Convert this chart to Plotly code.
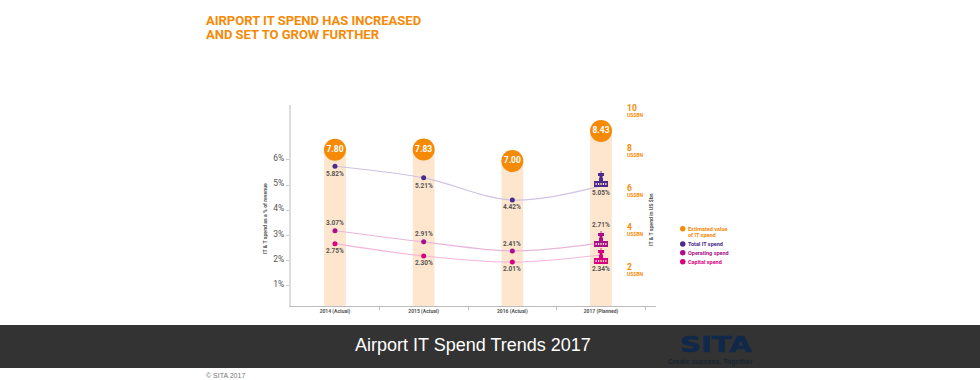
import plotly.graph_objects as go

W, H = 980, 380
DIN = "Roboto, Arial, sans-serif"

# ---- data ----
years = ["2014 (Actual)", "2015 (Actual)", "2016 (Actual)", "2017 (Planned)"]
spend_labels = ["7.80", "7.83", "7.00", "8.43"]
spend_pos = [7.90, 7.91, 7.33, 8.84]          # height on the US$ axis as drawn

total_pos = [5.75, 5.29, 4.41, 4.97]
operating_pos = [3.19, 2.75, 2.39, 2.71]
capital_pos = [2.68, 2.19, 1.95, 2.23]

total_labels = ["5.82%", "5.21%", "4.42%", "5.05%"]
operating_labels = ["3.07%", "2.91%", "2.41%", "2.71%"]
capital_labels = ["2.75%", "2.30%", "2.01%", "2.34%"]

pct_ticks = [1, 2, 3, 4, 5, 6]
usd_ticks = [2, 4, 6, 8, 10]

# ---- styles ----
ORANGE = "#F58A07"
BAR = "#FDE6CD"
TEXT = "#555555"
series = [
    ("Total IT spend", total_pos, total_labels, "#4B2A8C", "#CFC2E2", [8, 8, 7, 7], 1),
    ("Operating spend", operating_pos, operating_labels, "#A8108A", "#E8B6DB", [-8, -7.5, -7, -18], 4),
    ("Capital spend", capital_pos, capital_labels, "#D9007F", "#F5B6DA", [7.5, 7, 7, 14], 9),
]


def px(x):
    return x / W


def py(y):
    return 1 - y / H


fig = go.Figure()
fig.add_bar(x=years, y=spend_pos, width=0.245, marker=dict(color=BAR, line_width=0),
            yaxis="y", hoverinfo="skip", showlegend=False)
fig.add_scatter(x=years, y=spend_pos, mode="markers+text", yaxis="y",
                marker=dict(size=22, color=ORANGE, line_width=0),
                text=spend_labels, textposition="middle center",
                textfont=dict(family=DIN, size=8.5, color="white", weight="bold"),
                cliponaxis=False, showlegend=False)

annotations = []
shapes = []


def building(x, y, dy, color):
    """Small airport-terminal icon anchored on the last point of a series."""
    d = dy
    parts = [
        f"M-7,{-d} L7,{-d} L7,{-d+6} L2,{-d+6} L2,{-d+9} L-2,{-d+9} L-2,{-d+6} L-7,{-d+6} Z",
        f"M-1.5,{-d+9} L1.5,{-d+9} L1.5,{-d+11} L-1.5,{-d+11} Z",
        f"M-3,{-d+11} L3,{-d+11} L3,{-d+14} L-3,{-d+14} Z",
        f"M-0.4,{-d+14} L0.4,{-d+14} L0.4,{-d+16} L-0.4,{-d+16} Z",
    ]
    shapes.append(dict(type="path", layer="above", xref="x", yref="y2", xsizemode="pixel",
                       ysizemode="pixel", xanchor=x, yanchor=y, path=" ".join(parts),
                       fillcolor=color, line_width=0))
    win = " ".join(f"M{a},{-d+2} L{a+1.2},{-d+2} L{a+1.2},{-d+4} L{a},{-d+4} Z"
                   for a in (-5.5, -3, -0.6, 1.8, 4.2))
    shapes.append(dict(type="path", layer="above", xref="x", yref="y2", xsizemode="pixel",
                       ysizemode="pixel", xanchor=x, yanchor=y, path=win,
                       fillcolor="#FDE6CD", line_width=0))


for name, pos, labels, col, light, shifts, icon_dy in series:
    fig.add_scatter(x=years, y=pos, mode="lines", yaxis="y2", name=name,
                    line=dict(color=light, width=1.2, shape="spline", smoothing=1.0),
                    showlegend=False, hoverinfo="skip")
    fig.add_scatter(x=years[:3], y=pos[:3], mode="markers", yaxis="y2", name=name,
                    marker=dict(size=5, color=col, line_width=0), showlegend=False)
    building(years[3], pos[3], icon_dy, col)
    for yr, v, lab, s in zip(years, pos, labels, shifts):
        annotations.append(dict(x=yr, y=v, xref="x", yref="y2", text=lab, showarrow=False,
                                yshift=-s, xanchor="center", yanchor="middle",
                                font=dict(family=DIN, size=6.5, color=TEXT, weight="bold")))

# right-hand US$ scale, printed inside the plot area
for t in usd_ticks:
    annotations.append(dict(x=px(624.5), y=t, xref="paper", yref="y", text=str(t), showarrow=False,
                            xanchor="left", yanchor="middle",
                            font=dict(family=DIN, size=8.5, color=ORANGE, weight="bold")))
    annotations.append(dict(x=px(624.5), y=t, xref="paper", yref="y", text="US$BN", showarrow=False,
                            yshift=-7, xanchor="left", yanchor="middle",
                            font=dict(family=DIN, size=5, color=ORANGE, weight="bold")))


def page_text(x, y, text, size, color, anchor="left", family=DIN, weight="normal", angle=0):
    annotations.append(dict(x=px(x - 2 if anchor == "left" else x), y=py(y), xref="paper", yref="paper",
                            text=text, showarrow=False,
                            xanchor=anchor, yanchor="middle", textangle=angle, align="left",
                            font=dict(family=family, size=size, color=color, weight=weight)))


# heading
page_text(206, 20.5, "AIRPORT IT SPEND HAS INCREASED", 13, ORANGE, weight="bold")
page_text(206, 34.5, "AND SET TO GROW FURTHER", 13, ORANGE, weight="bold")
# axis titles
page_text(265, 219, "IT & T spend as a % of revenue", 5.2, TEXT, anchor="center", weight="bold", angle=-90)
page_text(651, 220, "IT & T spend in US $bn", 5.2, TEXT, anchor="center", weight="bold", angle=-90)

# legend
legend_rows = [
    (228.7, "Estimated value", ORANGE, 229),
    (244, "Total IT spend", "#4B2A8C", 243.7),
    (252.7, "Operating spend", "#A8108A", 253),
    (261.7, "Capital spend", "#D9007F", 262),
]
for y, text, col, ty in legend_rows:
    shapes.append(dict(type="circle", xref="paper", yref="paper", x0=px(680), x1=px(685.5),
                       y0=py(y - 2.7), y1=py(y + 2.7), fillcolor=col, line_width=0))
    page_text(688, ty, text, 5.5, col, weight="bold")
page_text(688, 235, "of IT spend", 5.5, ORANGE, weight="bold")

# footer band
shapes.insert(0, dict(type="rect", xref="paper", yref="paper", x0=0, x1=1, y0=py(368), y1=py(325),
                      fillcolor="#333333", line_width=0, layer="below"))
page_text(472.5, 345, "Airport IT Spend Trends 2017", 18, "white", anchor="center",
          family="Liberation Sans, Arial")
page_text(716.5, 345, "SITA", 21, "#10294A", anchor="center", family="DejaVu Sans", weight="bold")
page_text(710, 361.5, "Create success. Together", 7, "#1b2530", anchor="center",
          family="Liberation Sans, Arial", weight="bold")
page_text(206, 375.5, "© SITA 2017", 7, "#777777", family="Liberation Sans, Arial")

fig.update_layout(
    width=W, height=H, margin=dict(l=0, r=0, t=0, b=0), autosize=False,
    paper_bgcolor="white", plot_bgcolor="white", barmode="overlay",
    showlegend=False, shapes=shapes, annotations=annotations,
    xaxis=dict(domain=[px(291), px(656)], type="category", categoryorder="array", categoryarray=years,
               range=[-0.496, 3.62], tickson="boundaries", ticks="outside", ticklen=3,
               tickcolor="#bbbbbb", showgrid=False, zeroline=False, showline=True, linecolor="#bbbbbb",
               linewidth=1, tickfont=dict(family=DIN, size=5, color=TEXT, weight="bold")),
    yaxis=dict(domain=[py(306), py(105)], range=[0.04, 10.15], visible=False, fixedrange=True),
    yaxis2=dict(domain=[py(306), py(105)], overlaying="y", side="left", anchor="x",
                range=[0.206, 8.18], tickmode="array", tickvals=pct_ticks,
                ticktext=[f"{t}%" for t in pct_ticks], ticks="outside", ticklen=3, tickcolor="#cccccc",
                ticklabelshift=-2,
                showgrid=False, zeroline=False, showline=True, linecolor="#dddddd", linewidth=2,
                tickfont=dict(family=DIN, size=8.5, color=TEXT)),
)

post = """
document.body.style.margin='0';document.body.style.overflow='hidden';
document.querySelectorAll('.annotation-text').forEach(function(t){
  if(t.textContent==='SITA'){
    t.style.transformBox='fill-box';t.style.transformOrigin='center';
    t.style.transform='scaleX(1.38)';t.style.stroke='#10294A';t.style.strokeWidth='0.6px';
  }
});
"""
fig.write_html("out.html", config=dict(displayModeBar=False), post_script=post)
